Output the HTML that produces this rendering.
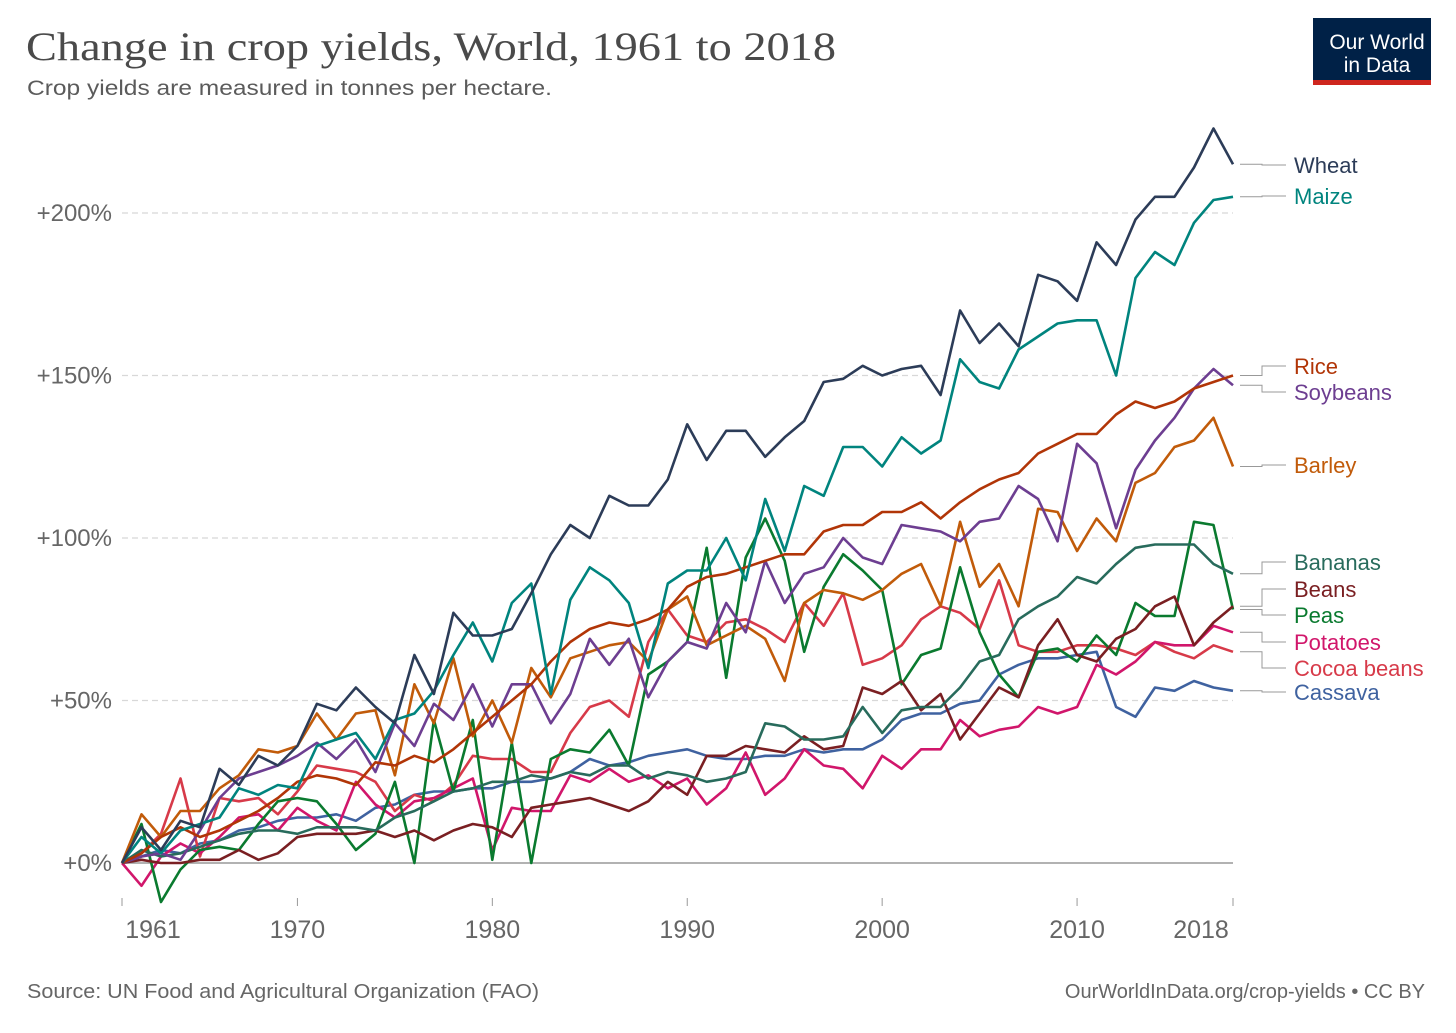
<!DOCTYPE html>
<html><head><meta charset="utf-8"><style>
body{margin:0;background:#fff;width:1456px;height:1028px;overflow:hidden;font-family:"Liberation Sans",sans-serif}
svg text{font-family:"Liberation Sans",sans-serif}
</style></head><body>
<svg id="chart" width="1456" height="1028" xmlns="http://www.w3.org/2000/svg">
<text x="26" y="60" style="font-family:'Liberation Serif',serif" font-size="40" fill="#4a4a4a" textLength="810" lengthAdjust="spacingAndGlyphs">Change in crop yields, World, 1961 to 2018</text>
<text x="27" y="95" font-size="21" fill="#5b5b5b" textLength="525" lengthAdjust="spacingAndGlyphs">Crop yields are measured in tonnes per hectare.</text>
<g>
<rect x="1313" y="18" width="118" height="62" fill="#002147"/>
<rect x="1313" y="80" width="118" height="5" fill="#ce261e"/>
<text x="1377" y="49" font-size="21" fill="#fff" text-anchor="middle">Our World</text>
<text x="1377" y="72" font-size="21" fill="#fff" text-anchor="middle">in Data</text>
</g>
<g id="grid"></g><g id="lines"></g><g id="labels"></g>
<text x="27" y="998" font-size="20" fill="#666" textLength="512" lengthAdjust="spacingAndGlyphs">Source: UN Food and Agricultural Organization (FAO)</text>
<text x="1425" y="998" font-size="20" fill="#666" text-anchor="end">OurWorldInData.org/crop-yields • CC BY</text>
</svg>
<script>
const years=[];for(let y=1961;y<=2018;y++)years.push(y);
const yTicks=[0,50,100,150,200];
const xTicks=[1961,1970,1980,1990,2000,2010,2018];
const wheat=[0,11,4,13,11,29,24,33,30,36,49,47,54,48,43,64,52,77,70,70,72,83,95,104,100,113,110,110,118,135,124,133,133,125,131,136,148,149,153,150,152,153,144,170,160,166,159,181,179,173,191,184,198,205,205,214,226,215];
const maize=[0,8,3,10,12,14,23,21,24,23,36,38,40,32,44,46,53,64,74,62,80,86,52,81,91,87,80,60,86,90,90,100,87,112,96,116,113,128,128,122,131,126,130,155,148,146,158,162,166,167,167,150,180,188,184,197,204,205];
const rice=[0,3,8,11,8,10,13,16,20,25,27,26,24,31,30,33,31,35,40,45,50,55,62,68,72,74,73,75,78,85,88,89,91,93,95,95,102,104,104,108,108,111,106,111,115,118,120,126,129,132,132,138,142,140,142,146,148,150];
const soybeans=[0,2,3,1,10,20,26,28,30,33,37,32,38,28,43,36,49,44,55,42,55,55,43,52,69,61,69,51,62,68,66,80,71,93,80,89,91,100,94,92,104,103,102,99,105,106,116,112,99,129,123,103,121,130,137,146,152,147];
const barley=[0,15,8,16,16,23,27,35,34,36,46,38,46,47,27,55,43,63,39,50,37,60,51,63,65,67,68,62,78,82,67,70,73,69,56,80,84,83,81,84,89,92,79,105,85,92,79,109,108,96,106,99,117,120,128,130,137,122];
const bananas=[0,4,2,3,5,7,9,10,10,9,11,11,11,10,14,16,19,22,23,25,25,27,26,28,27,30,30,26,28,27,25,26,28,43,42,38,38,39,48,40,47,48,48,54,62,64,75,79,82,88,86,92,97,98,98,98,92,89];
const beans=[0,1,0,0,1,1,4,1,3,8,9,9,9,10,8,10,7,10,12,11,8,17,18,19,20,18,16,19,25,21,33,33,36,35,34,39,35,36,54,52,56,47,52,38,46,54,51,67,75,64,62,69,72,79,82,67,74,79];
const peas=[0,12,-12,-2,4,5,4,12,19,20,19,12,4,9,25,0,44,22,44,1,37,0,32,35,34,41,30,58,62,68,97,57,94,106,93,65,85,95,90,84,55,64,66,91,71,58,51,65,66,62,70,64,80,76,76,105,104,78];
const potatoes=[0,-7,2,6,3,8,14,15,10,17,13,10,25,18,14,19,20,23,26,4,17,16,16,27,25,29,25,27,23,26,18,23,34,21,26,35,30,29,23,33,29,35,35,44,39,41,42,48,46,48,61,58,62,68,67,67,73,71];
const cocoa=[0,3,9,26,2,20,19,20,15,22,30,29,28,25,16,21,19,24,33,32,32,28,28,40,48,50,45,68,78,70,68,74,75,72,68,80,73,83,61,63,67,75,79,77,72,87,67,65,65,67,67,66,64,68,65,63,67,65];
const cassava=[0,2,4,3,6,7,10,11,13,14,14,15,13,17,18,21,22,22,23,23,25,25,26,28,32,30,31,33,34,35,33,32,32,33,33,35,34,35,35,38,44,46,46,49,50,58,61,63,63,64,65,48,45,54,53,56,54,53];
const seriesNames=["Wheat","Maize","Rice","Soybeans","Barley","Bananas","Beans","Peas","Potatoes","Cocoa beans","Cassava"];
const seriesData=[wheat,maize,rice,soybeans,barley,bananas,beans,peas,potatoes,cocoa,cassava];
const colors=["#2c3c58","#00847e","#b13507","#6d3e91","#c15b0a","#286b5c","#7a1f22","#0a7a2f","#d1166b","#d73a49","#3f62a0"];
const labelY=[165,196,366,392,465,562,589,615,642,668,692];
const X=y=>122+(y-1961)*(1233-122)/57;
const Y=v=>863-v*(863-213)/200;
const NS="http://www.w3.org/2000/svg";
function mk(t,a,p){const e=document.createElementNS(NS,t);for(const k in a)e.setAttribute(k,a[k]);p.appendChild(e);return e;}
const grid=document.getElementById('grid');
yTicks.forEach(v=>{
  if(v>0){const l=mk('line',{x1:122,x2:1233,y1:Y(v),y2:Y(v),stroke:'#d8d8d8','stroke-dasharray':'6,4','stroke-width':1.3},grid);
  
  }
  const t=mk('text',{x:112,y:Y(v)+8,'font-size':24,fill:'#666','text-anchor':'end'},grid);t.textContent='+'+v+'%';
  
  
});
const ax=mk('line',{x1:122,x2:1233,y1:Y(0),y2:Y(0),stroke:'#999','stroke-width':1.5},grid);


xTicks.forEach(y=>{
  const tk=mk('line',{x1:X(y),x2:X(y),y1:898,y2:906,stroke:'#999'},grid);
  
  
  const off=y==1961?31:(y==2018?-32:0);
  const t=mk('text',{x:X(y)+off,y:938,'font-size':25,fill:'#666','text-anchor':'middle'},grid);t.textContent=y;
  
  
});
const lines=document.getElementById('lines'),labels=document.getElementById('labels');
for(let i=seriesData.length-1;i>=0;i--){
  const d=seriesData[i].map((v,j)=>(j?'L':'M')+X(years[j]).toFixed(1)+','+Y(v).toFixed(1)).join('');
  const p=mk('path',{d:d,fill:'none',stroke:colors[i],'stroke-width':2.6,'stroke-linejoin':'round'},lines);
  
  
}
seriesData.forEach((s,i)=>{
  const ly=Y(s[s.length-1]),ty=labelY[i];
  const c=mk('path',{d:`M1240,${ly}H1262V${ty}H1286`,fill:'none',stroke:'#999'},labels);
  
  
  const t=mk('text',{x:1294,y:ty+8,'font-size':22,fill:colors[i]},labels);t.textContent=seriesNames[i];
  
  
});
</script>
</body></html>
